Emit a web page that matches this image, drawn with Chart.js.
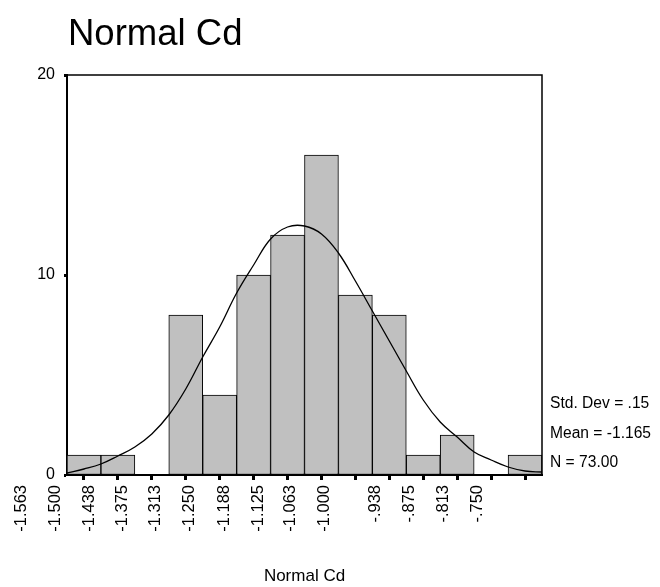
<!DOCTYPE html>
<html><head><meta charset="utf-8">
<script src="https://cdn.jsdelivr.net/npm/chart.js@4.4.1/dist/chart.umd.min.js"></script>
<style>html,body{margin:0;padding:0;background:#fff;}canvas{display:block;}</style>
</head><body>
<canvas id="c" width="660" height="587"></canvas>
<script>
// ---- data ----
const chartTitle = 'Normal Cd';
const axisTitle = 'Normal Cd';
const binCenters = [0.5, 1.5, 2.5, 3.5, 4.5, 5.5, 6.5, 7.5, 8.5, 9.5, 10.5, 11.5, 12.5, 13.5];
const binCounts  = [1, 1, 0, 8, 4, 10, 12, 16, 9, 8, 1, 2, 0, 1];
const curveX = [0, 0.5, 1, 1.5, 2, 2.5, 3, 3.5, 4, 4.5, 5, 5.5, 6, 6.5, 7, 7.5, 8, 8.5, 9, 9.5, 10, 10.5, 11, 11.5, 12, 12.5, 13, 13.5, 14];
const curveY = [0.1, 0.3, 0.55, 0.95, 1.4, 2.05, 3.0, 4.3, 5.9, 7.4, 9.1, 10.5, 11.8, 12.4, 12.45, 12.05, 11.1, 9.7, 8.2, 6.7, 5.2, 3.75, 2.65, 1.9, 1.15, 0.75, 0.4, 0.2, 0.15];
const tickLabels = ['-1.563', '-1.500', '-1.438', '-1.375', '-1.313', '-1.250', '-1.188', '-1.125', '-1.063', '-1.000', '-.938', '-.875', '-.813', '-.750'];
const tickLabelAt = [-1.35, -0.35, 0.65, 1.62, 2.62, 3.62, 4.63, 5.63, 6.6, 7.6, 9.1, 10.1, 11.1, 12.1];
const yTicks = [0, 10, 20];
const statsLines = ['Std. Dev = .15', 'Mean = -1.165', 'N = 73.00'];

const FONT = "'Liberation Sans', Arial, Helvetica, sans-serif";
Chart.defaults.font.family = FONT;
Chart.defaults.color = '#000';

const decor = {
  id: 'decor',
  afterDatasetsDraw(chart) {
    const {ctx, chartArea: a} = chart;
    ctx.save();
    ctx.strokeStyle = '#000';
    ctx.lineWidth = 1.5;
    ctx.beginPath();
    ctx.moveTo(a.left, a.top);
    ctx.lineTo(a.right, a.top);
    ctx.lineTo(a.right, a.bottom);
    ctx.stroke();
    ctx.restore();
  },
  afterDraw(chart) {
    const {ctx, chartArea: a} = chart;
    ctx.save();
    ctx.fillStyle = '#000';
    ctx.textAlign = 'left';
    ctx.textBaseline = 'alphabetic';
    ctx.font = '36.5px ' + FONT;
    ctx.fillText(chartTitle, a.left + 1, 45);
    ctx.font = '15.6px ' + FONT;
    ctx.textBaseline = 'middle';
    statsLines.forEach((t, i) => {
      ctx.fillText(t, a.right + 8, a.bottom - 12 - 29.5 * (statsLines.length - 1 - i));
    });
    ctx.restore();
  }
};

new Chart(document.getElementById('c'), {
  type: 'bar',
  data: {
    datasets: [
      {
        type: 'line',
        data: curveX.map((x, i) => ({x, y: curveY[i]})),
        borderColor: '#000',
        borderWidth: 1.3,
        pointRadius: 0,
        tension: 0.4,
        fill: false,
        order: 0
      },
      {
        type: 'bar',
        data: binCenters.map((x, i) => ({x, y: binCounts[i]})),
        backgroundColor: '#c0c0c0',
        borderColor: '#000',
        borderWidth: 1,
        borderSkipped: false,
        barPercentage: 1,
        categoryPercentage: 1,
        order: 1
      }
    ]
  },
  options: {
    responsive: false,
    animation: false,
    devicePixelRatio: 1,
    layout: {padding: {top: 75, right: 118, left: 0, bottom: 0}},
    plugins: {legend: {display: false}, title: {display: false}, tooltip: {enabled: false}},
    scales: {
      x: {
        type: 'linear', position: 'bottom', min: 0, max: 14, weight: 0, z: 1, offset: false,
        afterBuildTicks: s => { s.ticks = binCenters.map(v => ({value: v})); },
        afterFit: s => { s.height = 10; s.paddingLeft = 0; s.paddingRight = 0; },
        ticks: {display: false},
        grid: {offset: false, drawOnChartArea: false, drawTicks: true, tickLength: 5, tickWidth: 3, tickColor: '#000'},
        border: {display: true, color: '#000', width: 2}
      },
      x2: {
        type: 'linear', position: 'bottom', min: 0, max: 14, weight: 1, offset: false,
        afterBuildTicks: s => { s.ticks = tickLabelAt.map(v => ({value: v})); },
        afterFit: s => { s.height = 102; s.paddingLeft = 0; s.paddingRight = 0; },
        ticks: {
          autoSkip: false, minRotation: 90, maxRotation: 90, padding: 0,
          font: {size: 16.5}, color: '#000',
          callback: (v, i) => tickLabels[i]
        },
        grid: {display: false, drawTicks: false, offset: false},
        border: {display: false},
        title: {display: true, text: axisTitle, font: {size: 17}, color: '#000', padding: {top: 0, bottom: 0}}
      },
      y: {
        type: 'linear', position: 'left', min: 0, max: 20, z: 1,
        afterBuildTicks: s => { s.ticks = yTicks.map(v => ({value: v})); },
        afterFit: s => { s.width = 67; s.paddingTop = 0; s.paddingBottom = 0; },
        ticks: {font: {size: 16}, color: '#000', padding: 9},
        grid: {drawOnChartArea: false, drawTicks: true, tickLength: 3, tickWidth: 3, tickColor: '#000'},
        border: {display: true, color: '#000', width: 2}
      }
    }
  },
  plugins: [decor]
});
</script>
</body></html>
